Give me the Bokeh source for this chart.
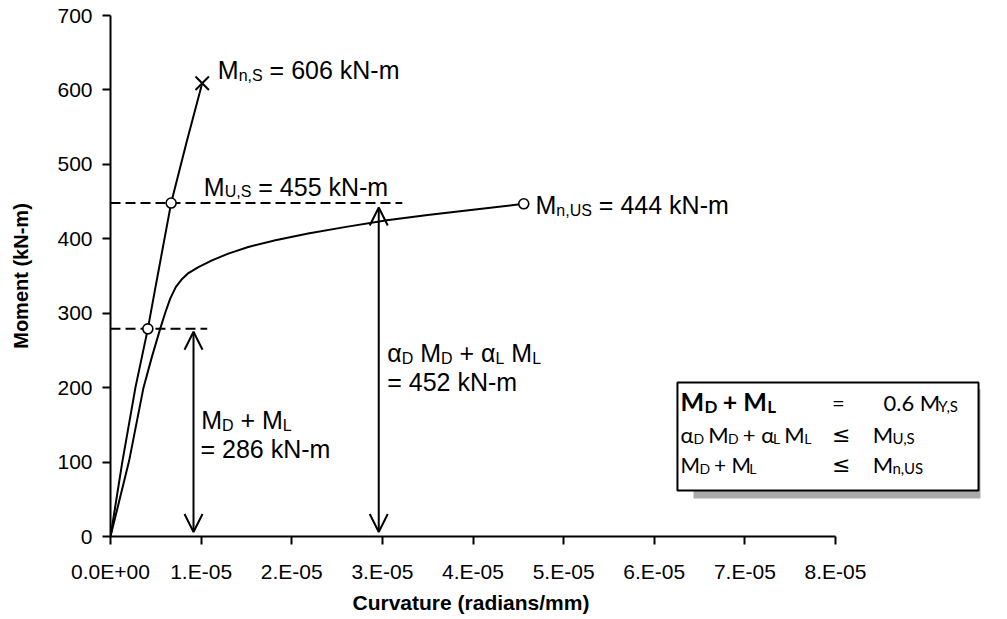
from bokeh.plotting import figure
from bokeh.models import Range1d, FixedTicker, Arrow, OpenHead, ColumnDataSource, Title
from bokeh.core.properties import value
from bokeh.embed import file_html
from bokeh.resources import INLINE

# ---------------- data ----------------
x_ticks = [0, 1e-5, 2e-5, 3e-5, 4e-5, 5e-5, 6e-5, 7e-5, 8e-5]
x_tick_labels = ["0.0E+00", "1.E-05", "2.E-05", "3.E-05", "4.E-05",
                 "5.E-05", "6.E-05", "7.E-05", "8.E-05"]
y_ticks = [0, 100, 200, 300, 400, 500, 600, 700]
x_title = "Curvature (radians/mm)"
y_title = "Moment (kN-m)"

# shored (S) moment-curvature curve
s_curv = [0, 1.3e-6, 2.75e-6, 4.12e-6, 5.04e-6, 6.69e-6, 8.4e-6, 1.012e-5]
s_mom = [0, 100, 200, 279, 340, 448, 530, 609]

# unshored (US) moment-curvature curve
us_curv = [0, 2.06e-6, 3.64e-6, 4.56e-6, 5.48e-6, 6.05e-6, 6.6e-6, 7.2e-6, 7.9e-6,
           8.6e-6, 9.7e-6, 1.12e-5, 1.30e-5, 1.52e-5, 1.82e-5, 2.18e-5, 2.6e-5,
           3.05e-5, 3.5e-5, 4.0e-5, 4.56e-5]
us_mom = [0, 102, 200, 241, 279, 301, 320, 335, 346, 354, 362, 371, 380, 389, 398,
          407, 416, 425, 432, 439, 447]

# reference levels (dashed)
level_mom = [279, 448]
level_end = [1.067e-5, 3.22e-5]

# markers
s_circle_curv = [4.12e-6, 6.69e-6]
s_circle_mom = [279, 448]
s_fail_curv = [1.012e-5]
s_fail_mom = [609]
us_end_curv = [4.56e-5]
us_end_mom = [447]

# double arrows
arrow_curv = [9.16e-6, 2.96e-5]
arrow_low = [6, 6]
arrow_high = [275, 442]

# annotation anchors (curvature, moment) and text parts
lab_mns = (1.184e-5, 615, [("M", "n"), ("n,S", "s"), (" = 606 kN-m", "n")])
lab_mus = (1.030e-5, 458, [("M", "n"), ("U,S", "s"), (" = 455 kN-m", "n")])
lab_mnus = (4.690e-5, 433.5, [("M", "n"), ("n,US", "s"), (" = 444 kN-m", "n")])
lab_dl1 = (1.0e-5, 144.7, [("M", "n"), ("D", "s"), (" + M", "n"), ("L", "s")])
lab_dl2 = (0.993e-5, 104.8, [("= 286 kN-m", "n")])
lab_fac1 = (3.053e-5, 234.2, [("\u03b1", "n"), ("D", "s"), (" M", "n"), ("D", "s"),
                              (" + \u03b1", "n"), ("L", "s"), (" M", "n"), ("L", "s")])
lab_fac2 = (3.053e-5, 195.8, [("= 452 kN-m", "n")])

# box
box_left, box_right, box_top, box_bottom = 6.256e-5, 9.578e-5, 206.9, 61.8
shadow_left, shadow_right, shadow_top, shadow_bottom = 6.433e-5, 9.60e-5, 198.0, 51.0
box_col1, box_col2, box_col3a, box_col3b = 6.29e-5, 7.96e-5, 8.53e-5, 8.41e-5
box_rows = [169.3, 126.7, 86.4]

# ---------------- layout ----------------
W, H = 1000, 617
PX_LEFT, PX_X8, PX_RIGHT = 110, 835, 985
PX_TOP, PX_BOTTOM = 15, 536
XMAX = 8e-5 * (PX_RIGHT - PX_LEFT) / (PX_X8 - PX_LEFT)

p = figure(width=W, height=H, x_range=Range1d(0, XMAX), y_range=Range1d(0, 700),
           output_backend="svg", toolbar_location=None,
           min_border_left=PX_LEFT, min_border_right=W - PX_RIGHT,
           min_border_top=PX_TOP, min_border_bottom=H - PX_BOTTOM)
p.outline_line_color = None
p.xgrid.visible = False
p.ygrid.visible = False
p.background_fill_color = "white"
p.border_fill_color = "white"

AR = {' ': 278, '=': 584, '+': 584, ',': 278, '-': 333, '.': 278, '(': 333, ')': 333,
      'M': 833, 'N': 722, 'D': 722, 'L': 556, 'S': 667, 'U': 722, 'Y': 667,
      'k': 500, 'm': 833, 'n': 556, '\u03b1': 578, '\u2264': 548}
for d in "0123456789":
    AR[d] = 556
LT = {' ': 200, '=': 580, '+': 580, ',': 220, '-': 330, '.': 230,
      'M': 900, 'N': 760, 'D': 740, 'L': 500, 'S': 540, 'U': 730, 'Y': 640,
      'k': 520, 'm': 850, 'n': 560, '\u03b1': 590, '\u2264': 580}
for d in "0123456789":
    LT[d] = 580

BASE_FIX = 0.36  # empirical shift so the alphabetic baseline lands where intended


def rich(x, y, parts, font, size, sub_size, widths, sub_drop=2, bold=False):
    off = 0.0
    for txt, role in parts:
        fs = size if role == "n" else sub_size
        lead = len(txt) - len(txt.lstrip(" "))
        off += lead * widths[' '] / 1000 * fs
        core = txt.strip(" ")
        if core:
            yo = (0 if role == "n" else sub_drop) - BASE_FIX * fs
            p.text(x=[x], y=[y], text=[core], x_offset=off, y_offset=yo,
                   text_font=value(font), text_font_size=f"{fs}px",
                   text_font_style=("bold" if bold else "normal"),
                   text_align="left", text_baseline="alphabetic", text_color="black")
            off += sum(widths.get(c, 556) for c in core) / 1000 * fs * (1.06 if bold else 1.0)
        trail = len(txt) - len(txt.rstrip(" "))
        off += trail * widths[' '] / 1000 * fs


# axes
p.xaxis.ticker = FixedTicker(ticks=x_ticks)
p.xaxis.major_label_overrides = {t: l for t, l in zip(x_ticks, x_tick_labels)}
p.yaxis.ticker = FixedTicker(ticks=y_ticks)
p.xaxis.bounds = (0, 8e-5)
p.yaxis.bounds = (0, 700)
for ax in (p.xaxis, p.yaxis):
    ax.axis_line_width = 2
    ax.axis_line_color = "black"
    ax.major_tick_line_width = 2
    ax.major_tick_line_color = "black"
    ax.major_tick_in = 0
    ax.major_tick_out = 8
    ax.minor_tick_line_color = None
    ax.major_label_text_font = "Liberation Sans"
    ax.major_label_text_font_size = "21px"
    ax.major_label_text_color = "black"
    ax.axis_label_text_font = "Liberation Sans"
    ax.axis_label_text_font_style = "bold"
    ax.axis_label_text_color = "black"
p.xaxis.major_label_standoff = 15
p.yaxis.major_label_standoff = 10
p.yaxis.axis_label = y_title
p.yaxis.axis_label_text_font_size = "20px"
p.yaxis.axis_label_standoff = 22

# x-axis title, centred under the 0..8E-05 part of the axis
p.add_layout(Title(text=x_title, align="left", offset=242, standoff=6,
                   text_font="Liberation Sans", text_font_size="21px",
                   text_font_style="bold", text_color="black"), "below")

# dashed reference levels
p.segment(x0=[0] * len(level_mom), y0=level_mom, x1=level_end, y1=level_mom,
          line_color="black", line_width=2, line_dash="10 5")

# curves
p.line(s_curv, s_mom, line_color="black", line_width=2)
p.line(us_curv, us_mom, line_color="black", line_width=2)

# arrows
asrc = ColumnDataSource(dict(x=arrow_curv, y0=arrow_low, y1=arrow_high))
p.add_layout(Arrow(source=asrc, x_start="x", y_start="y0", x_end="x", y_end="y1",
                   line_color="black", line_width=2,
                   start=OpenHead(size=18, line_width=2, line_color="black"),
                   end=OpenHead(size=18, line_width=2, line_color="black")))

# markers
p.scatter(s_circle_curv, s_circle_mom, marker="circle", size=10, fill_color="white",
          line_color="black", line_width=1.6)
p.scatter(us_end_curv, us_end_mom, marker="circle", size=10, fill_color="white",
          line_color="black", line_width=1.6)
p.scatter(s_fail_curv, s_fail_mom, marker="x", size=19, line_color="black", line_width=2)

# chart labels
for lab in (lab_mns, lab_mus, lab_mnus, lab_dl1, lab_dl2, lab_fac1, lab_fac2):
    rich(lab[0], lab[1], lab[2], "Liberation Sans", 25, 16, AR, sub_drop=2)

# legend-like box
p.quad(left=[shadow_left], right=[shadow_right], top=[shadow_top], bottom=[shadow_bottom],
       fill_color="#ababab", line_color=None)
p.quad(left=[box_left], right=[box_right], top=[box_top], bottom=[box_bottom],
       fill_color="white", line_color="black", line_width=2)

rich(box_col1, box_rows[0], [("M", "n"), ("D", "s"), (" + M", "n"), ("L", "s")],
     "Lato", 25, 17, LT, sub_drop=2, bold=True)
rich(box_col2, box_rows[0], [("=", "n")], "Lato", 22, 14, LT)
rich(box_col3a, box_rows[0], [("0.6 M", "n"), ("Y,S", "s")], "Lato", 22, 15, LT, sub_drop=1)

rich(box_col1, box_rows[1], [("\u03b1", "n"), ("D", "s"), (" M", "n"), ("D", "s"),
                             (" + \u03b1", "n"), ("L", "s"), (" M", "n"), ("L", "s")],
     "Lato", 22, 14, LT, sub_drop=1)
rich(box_col2, box_rows[1], [("\u2264", "n")], "DejaVu Sans", 22, 14, LT)
rich(box_col3b, box_rows[1], [("M", "n"), ("U,S", "s")], "Lato", 22, 15, LT, sub_drop=1)

rich(box_col1, box_rows[2], [("M", "n"), ("D", "s"), (" + M", "n"), ("L", "s")],
     "Lato", 21, 14, LT, sub_drop=1)
rich(box_col2, box_rows[2], [("\u2264", "n")], "DejaVu Sans", 22, 14, LT)
rich(box_col3b, box_rows[2], [("M", "n"), ("n,US", "s")], "Lato", 22, 15, LT, sub_drop=1)

open("out.html", "w").write(file_html(p, INLINE))
